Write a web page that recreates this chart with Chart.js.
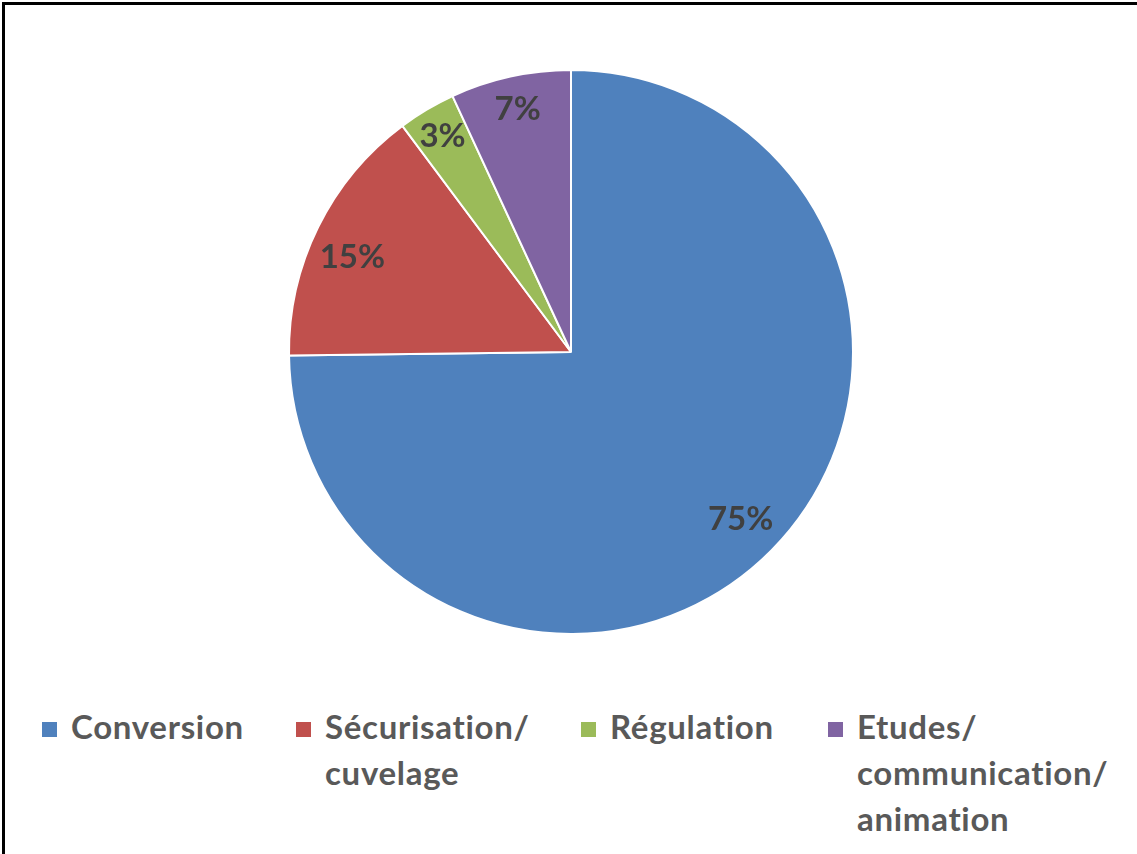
<!DOCTYPE html>
<html>
<head>
<meta charset="utf-8">
<script src="https://cdn.jsdelivr.net/npm/chart.js@4.4.0/dist/chart.umd.min.js"></script>
<style>
  html, body { margin: 0; padding: 0; background: #fff; }
  #frame {
    position: relative; width: 1137px; height: 854px; overflow: hidden;
    box-sizing: border-box; border-top: 3px solid #000; border-left: 3px solid #000;
    margin-top: 2px; margin-left: 2px;
  }
  #chartBox { position: absolute; left: -5px; top: -5px; width: 1137px; height: 640px; }
  #legend { position: absolute; left: 37px; top: 698px; font-family: Lato, "Open Sans", sans-serif;
    font-weight: bold; font-size: 33px; letter-spacing: 0.7px; color: #595959; }
  .item { position: absolute; top: 0; white-space: nowrap; line-height: 46px; }
  .item .sq { position: absolute; left: 0; top: 19px; width: 15px; height: 15px; }
  .item .txt { position: absolute; left: 29px; top: 0; }
</style>
</head>
<body>
<div id="frame">
  <div id="chartBox"><canvas id="myChart"></canvas></div>
  <div id="legend"></div>
</div>
<script>
var categories = [["Conversion"], ["Sécurisation/", "cuvelage"], ["Régulation"], ["Etudes/", "communication/", "animation"]];
var values = [74.8, 15.0, 3.3, 6.9];
var colors = ["#4F81BD", "#C0504D", "#9BBB59", "#8064A2"];

var ctx = document.getElementById("myChart").getContext("2d");

// percentage labels drawn inside the slices (best-fit style placement)
var sliceLabels = {
  id: "sliceLabels",
  afterDatasetsDraw: function(chart) {
    var meta = chart.getDatasetMeta(0);
    var c = chart.ctx;
    var radial = [0.845, 0.845, 0.89, 0.88];
    var nudge = [0, -0.05, 0, 0];
    c.save();
    c.font = "bold 33px Lato, 'Open Sans', sans-serif";
    c.fillStyle = "#404040";
    c.textAlign = "center";
    c.textBaseline = "middle";
    meta.data.forEach(function(arc, i) {
      var mid = (arc.startAngle + arc.endAngle) / 2 + nudge[i];
      var r = arc.outerRadius * radial[i];
      var x = arc.x + Math.cos(mid) * r;
      var y = arc.y + Math.sin(mid) * r;
      c.fillText(Math.round(values[i]) + "%", x, y);
    });
    c.restore();
  }
};

var chart = new Chart(ctx, {
  type: "pie",
  data: {
    labels: categories.map(function(l) { return l.join(" "); }),
    datasets: [{
      data: values,
      backgroundColor: colors,
      borderColor: "#ffffff",
      borderWidth: 2
    }]
  },
  options: {
    responsive: true,
    maintainAspectRatio: false,
    animation: false,
    layout: { padding: { top: 69, bottom: 5, left: 5, right: 0 } },
    plugins: {
      legend: { display: false },
      tooltip: { enabled: false }
    }
  },
  plugins: [sliceLabels]
});

// legend below the pie
var legendLeft = [0, 254, 539, 786];
var legend = document.getElementById("legend");
categories.forEach(function(lines, i) {
  var item = document.createElement("div");
  item.className = "item";
  item.style.left = legendLeft[i] + "px";
  var sq = document.createElement("div");
  sq.className = "sq";
  sq.style.background = colors[i];
  var txt = document.createElement("div");
  txt.className = "txt";
  txt.innerHTML = lines.join("<br>");
  item.appendChild(sq);
  item.appendChild(txt);
  legend.appendChild(item);
});
</script>
</body>
</html>
